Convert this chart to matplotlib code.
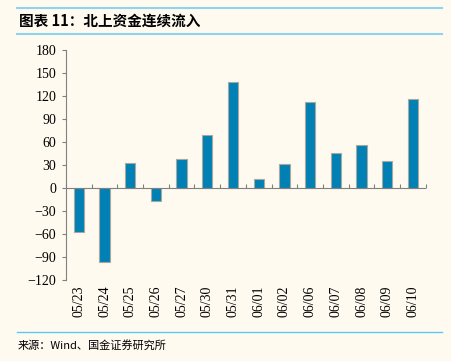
import matplotlib.pyplot as plt
import numpy as np

plt.rcParams['font.family'] = ['Liberation Serif', 'Noto Sans CJK SC']
cjk = ['Noto Sans CJK SC', 'DejaVu Sans']

dates = ["05/23", "05/24", "05/25", "05/26", "05/27", "05/30", "05/31",
         "06/01", "06/02", "06/06", "06/07", "06/08", "06/09", "06/10"]
inflow = [-58, -96, 33, -17, 38, 69, 138, 12, 31, 112, 45, 56, 35, 116]
y_ticks = [-120, -90, -60, -30, 0, 30, 60, 90, 120, 150, 180]

bg = "#FEFAF0"
fig = plt.figure(figsize=(4.52, 3.61), dpi=100, facecolor=bg)
ax = fig.add_axes([0.146, 0.2244, 0.796, 0.6371], facecolor=bg)

x = np.arange(len(dates))
ax.bar(x, inflow, width=0.4, color="#0080B4", edgecolor="#A8A8A0", linewidth=0.8, zorder=3)

ax.set_xlim(-0.5, len(dates) - 0.5)
ax.set_ylim(-120, 180)
ax.set_yticks(y_ticks)
ax.set_yticklabels([str(v).replace("-", "\u2212") for v in y_ticks])
ax.set_xticks(x)
ax.set_xticklabels(dates, rotation=90)
ax.tick_params(axis="x", length=0, pad=4, labelsize=10)
ax.tick_params(axis="y", length=3, color="#808080", pad=4, labelsize=10)

for side in ["top", "right", "bottom"]:
    ax.spines[side].set_visible(False)
ax.spines["left"].set_color("#808080")
ax.spines["left"].set_linewidth(0.8)

# zero line with boundary ticks
ax.axhline(0, color="#808080", linewidth=0.8, zorder=4)
secax = ax.secondary_xaxis(0.4)
secax.set_xticks(np.arange(len(dates) + 1) - 0.5)
secax.set_xticklabels([])
secax.tick_params(direction="in", length=3, color="#808080")
secax.spines["bottom"].set_visible(False)

# header and footer
line_color = "#8FD3EE"
fig.add_artist(plt.Line2D([0.038, 0.978], [0.978, 0.978], color=line_color, linewidth=1.5))
fig.add_artist(plt.Line2D([0.038, 0.978], [0.906, 0.906], color=line_color, linewidth=1.5))
fig.text(0.042, 0.942, "图表 11：北上资金连续流入", fontsize=10.5, fontweight="bold",
         style="italic", va="center", ha="left", family=cjk)
fig.add_artist(plt.Line2D([0.038, 0.978], [0.081, 0.081], color="#5BC8F0", linewidth=1.0))
fig.text(0.040, 0.044, "来源：Wind、国金证券研究所", fontsize=8, va="center", ha="left",
         family=cjk)

fig.savefig("out.png", dpi=100, facecolor=bg)
